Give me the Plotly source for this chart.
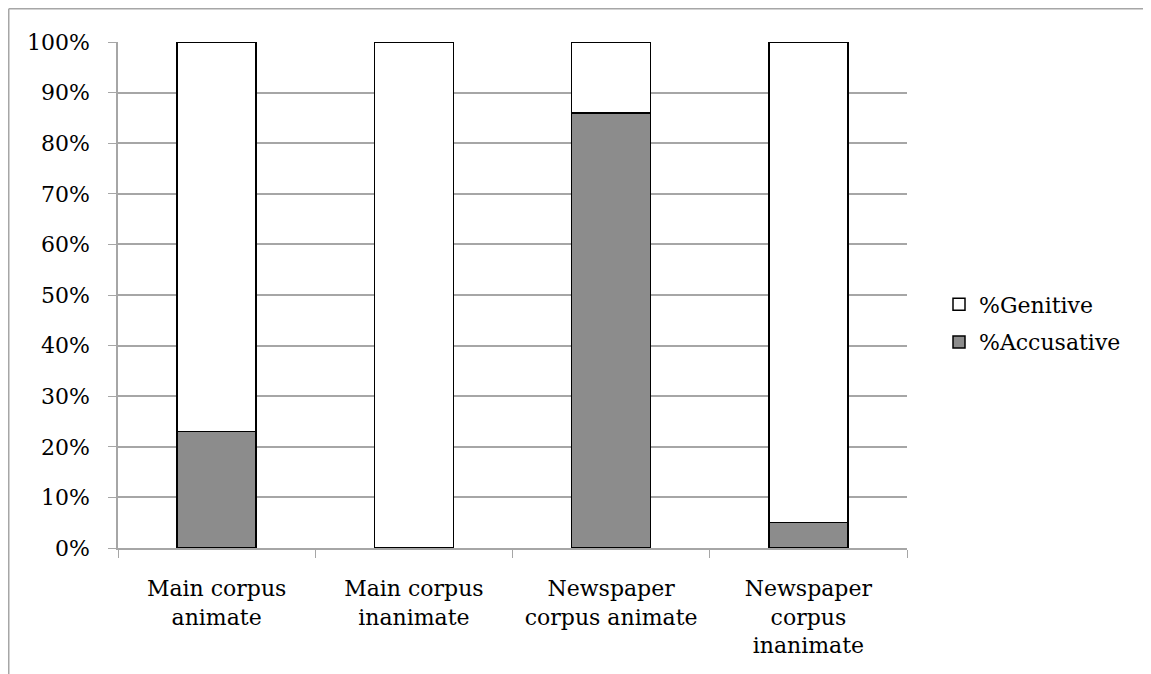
import plotly.graph_objects as go

categories = ["Main corpus<br>animate", "Main corpus<br>inanimate",
              "Newspaper<br>corpus animate", "Newspaper<br>corpus<br>inanimate"]
accusative = [23, 0, 86, 5]
genitive = [77, 100, 14, 95]
tick_vals = [0, 10, 20, 30, 40, 50, 60, 70, 80, 90, 100]
tick_text = [f"{v}%" for v in tick_vals]

W, H = 1151, 674
# page body has an 8px margin; positions below are in figure coordinates
L, T = 110, 34
pw, ph = 789, 506
R, B = W - L - pw, H - T - ph

FONT = "DejaVu Serif"
GRID = "#a6a6a6"

fig = go.Figure()
fig.add_trace(go.Bar(x=categories, y=accusative, name="%Accusative", legendgroup="a",
                     legendrank=2,
                     marker=dict(color="#8c8c8c", line=dict(color="black", width=1.5))))
fig.add_trace(go.Bar(x=categories, y=genitive, name="%Genitive", legendgroup="g",
                     legendrank=1,
                     marker=dict(color="white", line=dict(color="black", width=1.5))))

fx = (0.75 - L) / pw
fy = 1 + (T - 0.75) / ph
fig.add_shape(type="line", xref="paper", yref="paper", x0=fx, x1=fx, y0=fy, y1=-0.5,
              line=dict(color=GRID, width=1.5))
fig.add_shape(type="line", xref="paper", yref="paper", x0=fx, x1=1.6, y0=fy, y1=fy,
              line=dict(color=GRID, width=1.5))

fig.update_layout(
    width=W, height=H, barmode="stack", bargap=0.6,
    margin=dict(l=L, r=R, t=T, b=B),
    plot_bgcolor="white", paper_bgcolor="white",
    font=dict(family=FONT, size=22, color="black"),
    legend=dict(x=(931 - L) / pw, xanchor="left", y=1 - (315.5 - T) / ph, yanchor="middle",
                traceorder="grouped", tracegroupgap=6,
                font=dict(size=22), itemwidth=30),
    xaxis=dict(tickson="boundaries", ticks="outside", ticklen=8, tickcolor=GRID,
               showline=True, linecolor=GRID, linewidth=1.5, showgrid=False,
               ticklabelstandoff=20),
    yaxis=dict(range=[0, 100], tickvals=tick_vals, ticktext=tick_text,
               ticks="outside", ticklen=8, tickcolor=GRID, showline=True,
               linecolor=GRID, linewidth=1.5, showgrid=True, gridcolor=GRID,
               gridwidth=1.5, zeroline=False, ticklabelstandoff=14),
)
fig.write_html("out.html")
